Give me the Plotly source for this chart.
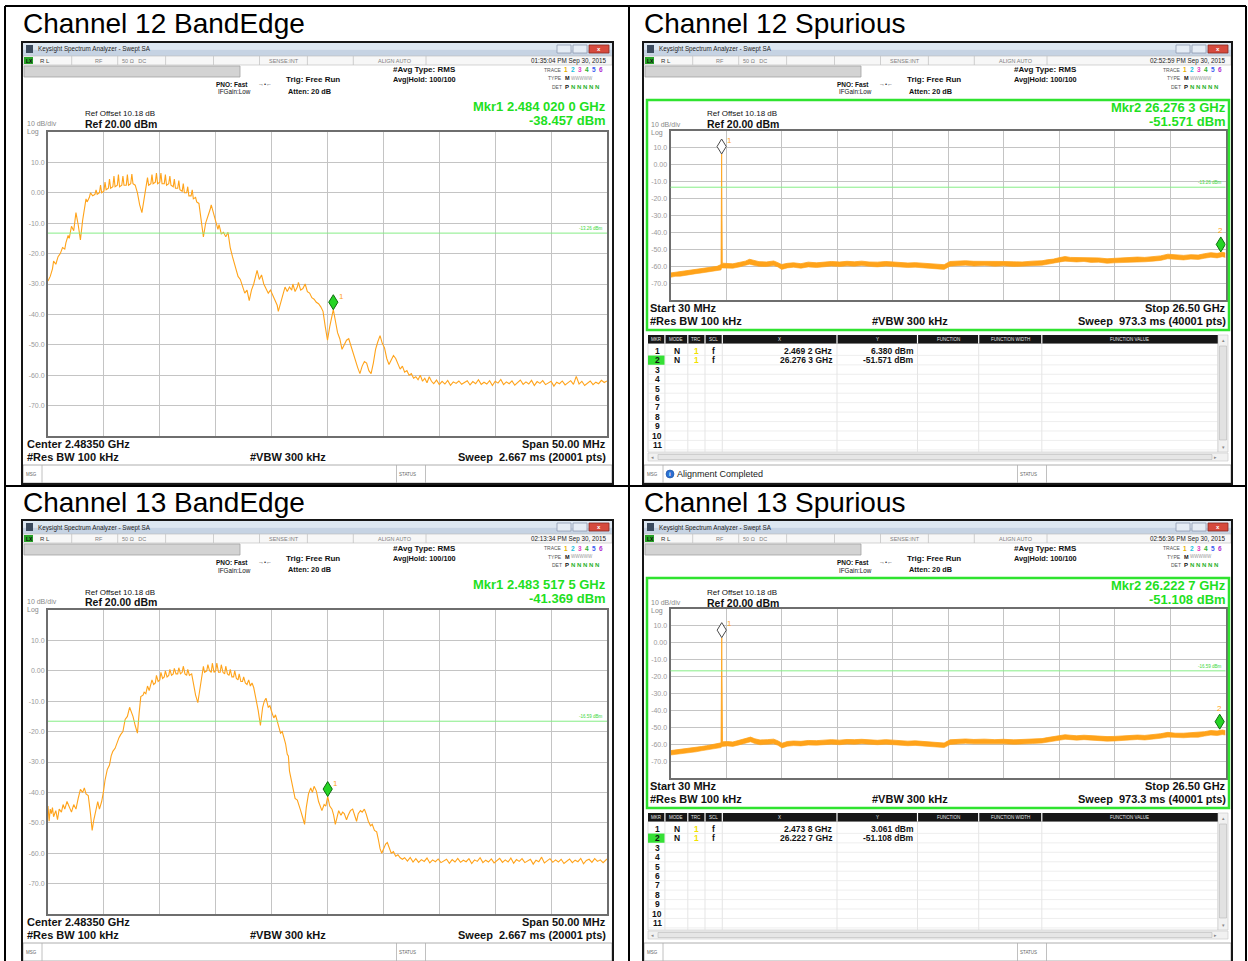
import plotly.graph_objects as go

W, H = 1248, 961

# ---------------- measured traces ----------------
# Band-edge sweeps: (frequency MHz, level dBm)
ch12_edge_trace = [
    (2458.5, -29.0), (2458.7, -27.5), (2458.9, -25.0), (2459.0, -22.5), (2459.2, -23.5),
    (2459.4, -21.0), (2459.6, -20.0), (2459.8, -18.0), (2460.0, -18.5), (2460.1, -16.5),
    (2460.3, -14.0), (2460.4, -15.0), (2460.6, -11.0), (2460.8, -12.5), (2460.9, -9.5),
    (2461.0, -6.5), (2461.2, -10.5), (2461.4, -15.5), (2461.6, -9.0), (2461.8, -3.0),
    (2461.9, -2.0), (2462.0, -3.0), (2462.2, -1.5), (2462.3, 0.0), (2462.5, -1.0),
    (2462.7, -0.5), (2462.8, 1.0), (2462.9, -0.5), (2463.1, 0.0), (2463.2, 2.5),
    (2463.3, 0.0), (2463.5, 0.5), (2463.6, 3.5), (2463.7, 1.0), (2463.9, 1.5),
    (2464.0, 4.5), (2464.1, 1.5), (2464.3, 2.0), (2464.4, 5.5), (2464.5, 2.0),
    (2464.7, 2.5), (2464.8, 6.0), (2464.9, 2.0), (2465.1, 2.5), (2465.2, 5.5),
    (2465.3, 2.5), (2465.5, 2.5), (2465.6, 6.0), (2465.7, 2.5), (2465.9, 3.0),
    (2466.0, 6.2), (2466.1, 3.0), (2466.3, 2.5), (2466.5, 0.0), (2466.7, -4.0),
    (2466.9, -6.5), (2467.1, -2.0), (2467.3, 3.0), (2467.4, 5.0), (2467.5, 2.5),
    (2467.7, 3.0), (2467.8, 6.0), (2467.9, 3.0), (2468.1, 3.5), (2468.2, 6.5),
    (2468.3, 3.0), (2468.5, 3.5), (2468.6, 6.5), (2468.7, 3.0), (2468.9, 3.0),
    (2469.0, 6.0), (2469.1, 2.5), (2469.3, 3.0), (2469.4, 5.5), (2469.5, 2.5),
    (2469.7, 2.0), (2469.8, 4.5), (2469.9, 1.5), (2470.1, 1.5), (2470.2, 4.0),
    (2470.3, 1.0), (2470.5, 0.5), (2470.6, 3.0), (2470.7, 0.0), (2470.9, 0.0),
    (2471.0, 2.0), (2471.1, -1.0), (2471.3, -1.0), (2471.4, 1.0), (2471.5, -2.0),
    (2471.7, -1.5), (2471.8, -3.0), (2472.0, -3.5), (2472.2, -9.0), (2472.4, -14.5),
    (2472.6, -10.0), (2472.8, -8.0), (2473.0, -5.5), (2473.1, -4.0), (2473.3, -7.0),
    (2473.5, -9.5), (2473.7, -12.0), (2473.8, -10.5), (2474.0, -13.5), (2474.2, -13.0),
    (2474.4, -14.5), (2474.6, -13.0), (2474.8, -18.0), (2475.0, -21.0), (2475.2, -24.0),
    (2475.5, -27.5), (2475.7, -28.5), (2475.9, -31.0), (2476.1, -33.0), (2476.3, -32.0),
    (2476.5, -35.5), (2476.7, -32.0), (2476.9, -30.0), (2477.1, -27.0), (2477.2, -25.5),
    (2477.4, -28.5), (2477.6, -27.0), (2477.8, -30.0), (2478.0, -31.5), (2478.2, -33.0),
    (2478.4, -32.0), (2478.6, -33.5), (2478.8, -35.0), (2479.0, -37.0), (2479.1, -39.0),
    (2479.3, -36.0), (2479.5, -33.0), (2479.7, -31.0), (2479.9, -32.5), (2480.1, -31.0),
    (2480.3, -32.0), (2480.4, -30.0), (2480.6, -32.5), (2480.8, -31.0), (2480.9, -29.5),
    (2481.1, -32.0), (2481.3, -31.5), (2481.5, -30.0), (2481.7, -32.5), (2481.9, -33.0),
    (2482.1, -34.5), (2482.3, -35.0), (2482.5, -36.0), (2482.7, -36.5), (2482.9, -37.5),
    (2483.1, -39.0), (2483.3, -44.0), (2483.5, -48.5), (2483.7, -44.0), (2483.9, -40.5),
    (2484.02, -38.457), (2484.2, -42.0), (2484.4, -46.0), (2484.6, -48.0), (2484.8, -51.5),
    (2485.0, -50.0), (2485.2, -48.5), (2485.4, -48.0), (2485.6, -50.5), (2485.8, -52.5),
    (2486.0, -55.0), (2486.2, -57.5), (2486.4, -59.5), (2486.6, -57.0), (2486.8, -55.5),
    (2487.0, -56.0), (2487.2, -58.5), (2487.4, -59.5), (2487.6, -56.0), (2487.8, -51.5),
    (2488.0, -49.0), (2488.2, -47.0), (2488.4, -49.5), (2488.6, -51.0), (2488.8, -54.5),
    (2489.0, -56.5), (2489.2, -55.0), (2489.4, -53.5), (2489.6, -54.5), (2489.8, -56.5),
    (2490.0, -58.0), (2490.2, -57.0), (2490.4, -59.0), (2490.6, -58.5), (2490.8, -60.0),
    (2491.0, -59.5), (2491.2, -61.0), (2491.4, -60.5), (2491.6, -61.5), (2491.8, -60.0),
    (2492.0, -62.0), (2492.2, -61.0), (2492.4, -62.5), (2492.6, -60.5), (2492.8, -62.0),
    (2493.0, -62.8), (2493.25, -61.6), (2493.5, -63.1), (2493.75, -62.0), (2494.0, -62.9),
    (2494.25, -61.7), (2494.5, -63.3), (2494.75, -62.2), (2495.0, -62.7), (2495.25, -61.9),
    (2495.5, -63.0), (2495.75, -62.4), (2496.0, -61.8), (2496.25, -63.2), (2496.5, -62.1),
    (2496.75, -62.8), (2497.0, -61.5), (2497.25, -63.0), (2497.5, -62.3), (2497.75, -62.9),
    (2498.0, -61.8), (2498.25, -63.4), (2498.5, -62.0), (2498.75, -62.6), (2499.0, -61.4),
    (2499.25, -63.1), (2499.5, -62.2), (2499.75, -62.8), (2500.0, -61.9), (2500.25, -63.3),
    (2500.5, -62.5), (2500.75, -61.6), (2501.0, -63.0), (2501.25, -62.2), (2501.5, -62.9),
    (2501.75, -61.7), (2502.0, -63.4), (2502.25, -62.1), (2502.5, -62.7), (2502.75, -61.8),
    (2503.0, -63.1), (2503.25, -62.4), (2503.5, -62.0), (2503.75, -63.6), (2504.0, -62.3),
    (2504.25, -62.8), (2504.5, -61.9), (2504.75, -63.2), (2505.0, -62.5), (2505.25, -61.8),
    (2505.5, -63.0), (2505.75, -60.4), (2506.0, -62.9), (2506.25, -62.0), (2506.5, -63.4),
    (2506.75, -62.6), (2507.0, -61.9), (2507.25, -63.1), (2507.5, -62.3), (2507.75, -62.8),
    (2508.0, -61.7), (2508.25, -62.4), (2508.5, -61.9),
]

ch13_edge_trace = [
    (2458.5, -44.5), (2458.6, -49.5), (2458.7, -45.5), (2458.8, -47.0), (2458.9, -45.0),
    (2459.0, -48.0), (2459.2, -46.0), (2459.35, -49.0), (2459.5, -45.5), (2459.7, -46.5),
    (2459.85, -44.0), (2460.0, -45.5), (2460.2, -43.0), (2460.4, -44.5), (2460.6, -46.5),
    (2460.8, -44.0), (2461.0, -45.5), (2461.2, -42.0), (2461.4, -39.0), (2461.6, -40.0),
    (2461.75, -38.5), (2461.9, -40.5), (2462.1, -41.0), (2462.3, -47.0), (2462.45, -52.5),
    (2462.6, -49.0), (2462.8, -45.0), (2462.95, -43.0), (2463.1, -45.5), (2463.3, -43.0),
    (2463.45, -40.0), (2463.6, -36.0), (2463.8, -32.5), (2464.0, -31.0), (2464.15, -28.0),
    (2464.3, -26.5), (2464.5, -25.5), (2464.7, -23.0), (2464.85, -22.0), (2465.0, -21.0),
    (2465.2, -20.0), (2465.4, -16.0), (2465.6, -15.0), (2465.8, -12.0), (2465.95, -13.5),
    (2466.1, -15.0), (2466.3, -18.0), (2466.5, -20.5), (2466.65, -14.0), (2466.8, -8.5),
    (2467.0, -8.0), (2467.1, -7.0), (2467.25, -7.5), (2467.4, -5.0), (2467.55, -6.5),
    (2467.7, -4.5), (2467.8, -3.0), (2467.95, -4.5), (2468.1, -4.0), (2468.2, -1.5),
    (2468.35, -3.5), (2468.5, -3.0), (2468.6, -0.5), (2468.75, -2.5), (2468.9, -2.0),
    (2469.0, 0.0), (2469.15, -2.0), (2469.3, -1.5), (2469.4, 0.5), (2469.55, -1.5),
    (2469.7, -1.0), (2469.8, 0.8), (2469.95, -1.0), (2470.1, -1.0), (2470.2, 1.0),
    (2470.35, -1.0), (2470.5, -0.5), (2470.6, 1.5), (2470.75, -1.0), (2470.9, -1.5),
    (2471.0, 0.5), (2471.15, -1.5), (2471.35, -1.0), (2471.5, -4.0), (2471.7, -8.0),
    (2471.9, -10.5), (2472.1, -5.0), (2472.3, 0.0), (2472.4, 1.5), (2472.5, -0.5),
    (2472.7, 0.0), (2472.8, 2.0), (2472.95, 0.0), (2473.1, -0.5), (2473.2, 2.5),
    (2473.35, -0.5), (2473.5, 0.0), (2473.6, 2.5), (2473.75, -0.5), (2473.9, -0.5),
    (2474.0, 2.0), (2474.15, -0.5), (2474.3, -1.0), (2474.4, 1.5), (2474.55, -1.0),
    (2474.7, -1.5), (2474.8, 0.5), (2474.95, -2.0), (2475.1, -2.0), (2475.2, 0.0),
    (2475.35, -2.5), (2475.5, -3.0), (2475.6, -1.0), (2475.75, -3.5), (2475.9, -3.5),
    (2476.0, -2.0), (2476.15, -4.0), (2476.3, -4.5), (2476.45, -3.0), (2476.6, -5.0),
    (2476.75, -4.0), (2476.9, -5.5), (2477.1, -9.0), (2477.3, -13.0), (2477.5, -18.0),
    (2477.7, -12.0), (2477.85, -10.0), (2478.0, -9.0), (2478.2, -12.0), (2478.35, -11.5),
    (2478.55, -14.0), (2478.7, -15.5), (2478.85, -14.5), (2479.0, -17.0), (2479.15, -18.5),
    (2479.3, -20.5), (2479.45, -20.0), (2479.6, -22.0), (2479.75, -24.0), (2479.9, -27.5),
    (2480.0, -28.0), (2480.1, -33.0), (2480.25, -36.0), (2480.4, -39.0), (2480.6, -42.0),
    (2480.8, -42.5), (2480.95, -44.0), (2481.1, -46.0), (2481.3, -48.5), (2481.45, -50.5),
    (2481.6, -45.0), (2481.8, -40.5), (2482.0, -38.5), (2482.15, -40.0), (2482.3, -38.0),
    (2482.5, -39.5), (2482.7, -43.0), (2482.85, -44.5), (2483.0, -46.0), (2483.2, -44.0),
    (2483.35, -44.5), (2483.5175, -41.369), (2483.7, -44.5), (2483.9, -45.5), (2484.05, -47.5),
    (2484.2, -50.5), (2484.35, -48.0), (2484.5, -46.0), (2484.7, -47.5), (2484.85, -46.5),
    (2485.0, -47.0), (2485.2, -49.0), (2485.35, -47.5), (2485.55, -46.0), (2485.75, -45.5),
    (2485.9, -47.5), (2486.1, -49.5), (2486.25, -47.0), (2486.45, -46.0), (2486.6, -46.5),
    (2486.8, -45.5), (2486.95, -47.0), (2487.15, -49.5), (2487.35, -51.0), (2487.5, -50.5),
    (2487.7, -52.5), (2487.9, -53.0), (2488.05, -55.5), (2488.2, -58.5), (2488.35, -60.0),
    (2488.5, -58.5), (2488.7, -57.0), (2488.85, -56.5), (2489.0, -58.0), (2489.2, -60.0),
    (2489.4, -59.5), (2489.6, -61.0), (2489.8, -60.5), (2490.0, -61.5), (2490.2, -62.0),
    (2490.4, -61.5), (2490.65, -62.6), (2490.9, -61.4), (2491.15, -62.9), (2491.4, -61.8),
    (2491.65, -63.0), (2491.9, -62.1), (2492.15, -62.7), (2492.4, -61.6), (2492.65, -63.2),
    (2492.9, -62.2), (2493.15, -62.8), (2493.4, -61.9), (2493.65, -63.1), (2493.9, -62.4),
    (2494.15, -62.0), (2494.4, -63.3), (2494.65, -62.1), (2494.9, -62.9), (2495.15, -61.7),
    (2495.4, -63.0), (2495.65, -62.3), (2495.9, -62.8), (2496.15, -61.8), (2496.4, -63.4),
    (2496.65, -62.2), (2496.9, -62.7), (2497.15, -61.5), (2497.4, -63.1), (2497.65, -62.3),
    (2497.9, -62.9), (2498.15, -61.9), (2498.4, -63.2), (2498.65, -62.5), (2498.9, -61.7),
    (2499.15, -63.0), (2499.4, -62.2), (2499.65, -62.9), (2499.9, -61.6), (2500.15, -63.3),
    (2500.4, -62.1), (2500.65, -62.7), (2500.9, -61.8), (2501.15, -63.1), (2501.4, -62.4),
    (2501.65, -62.0), (2501.9, -63.6), (2502.15, -62.3), (2502.4, -62.8), (2502.65, -61.3),
    (2502.9, -63.2), (2503.15, -62.5), (2503.4, -61.8), (2503.65, -63.0), (2503.9, -62.2),
    (2504.15, -62.9), (2504.4, -62.0), (2504.65, -63.4), (2504.9, -62.6), (2505.15, -61.9),
    (2505.4, -63.1), (2505.65, -62.3), (2505.9, -62.8), (2506.15, -61.7), (2506.4, -63.5),
    (2506.65, -62.4), (2506.9, -62.0), (2507.15, -63.0), (2507.4, -61.8), (2507.65, -62.7),
    (2507.9, -62.2), (2508.15, -63.1), (2508.5, -61.9),
]

# Spurious sweeps: (frequency MHz, lower edge dBm, upper edge dBm) of the trace band
ch12_spur_band = [
    (30, -66.6, -64.0), (250, -66.0, -63.6), (500, -65.9, -63.2), (750, -65.3, -63.0),
    (1000, -65.0, -62.4), (1250, -64.4, -62.1), (1500, -64.0, -61.4), (1750, -63.5, -61.0),
    (2000, -63.1, -60.5), (2250, -62.6, -60.1), (2440, -62.2, -59.0), (2469.2, -61.0, 6.380),
    (2500, -61.0, -58.2), (2750, -60.9, -58.3), (3000, -61.2, -58.6), (3300, -60.5, -57.8),
    (3600, -59.6, -57.0), (3800, -58.8, -55.9), (4000, -59.4, -56.6), (4250, -60.1, -57.3),
    (4600, -60.2, -57.5), (4950, -59.6, -56.9), (5150, -60.4, -57.9), (5330, -61.9, -59.0),
    (5600, -61.0, -58.3), (5900, -60.6, -58.0), (6250, -61.2, -58.5), (6600, -60.4, -57.6),
    (7000, -60.8, -58.0), (7400, -60.2, -57.4), (7700, -59.9, -57.2), (8100, -60.2, -57.5),
    (8450, -59.8, -57.1), (8800, -60.0, -57.4), (9150, -59.6, -57.0), (9500, -60.1, -57.5),
    (9900, -60.4, -57.6), (10300, -59.9, -57.2), (10600, -60.2, -57.4), (11000, -60.5, -57.9),
    (11350, -60.8, -58.1), (11700, -60.6, -57.9), (12100, -61.0, -58.3), (12500, -61.2, -58.6),
    (12800, -61.6, -58.9), (13080, -61.9, -59.1), (13360, -60.0, -57.2), (13700, -59.8, -57.0),
    (14100, -59.4, -56.8), (14500, -59.9, -57.1), (15000, -59.6, -57.0), (15500, -60.0, -57.3),
    (15900, -59.8, -57.2), (16400, -60.2, -57.4), (16800, -60.0, -57.5), (17300, -59.7, -57.0),
    (17750, -59.4, -56.8), (18000, -58.9, -56.2), (18300, -58.4, -55.8), (18550, -57.6, -55.0),
    (18850, -57.0, -54.3), (19100, -57.4, -54.8), (19400, -57.5, -54.9), (19750, -57.2, -54.6),
    (20100, -57.8, -55.0), (20450, -57.6, -55.1), (20850, -58.3, -55.6), (21200, -58.0, -55.3),
    (21550, -57.9, -55.2), (21900, -57.5, -54.9), (22300, -57.3, -54.6), (22650, -57.4, -54.8),
    (23050, -57.0, -54.4), (23400, -56.6, -53.9), (23750, -55.6, -52.9), (24100, -56.0, -53.4),
    (24500, -56.3, -53.6), (24850, -55.8, -53.2), (25200, -56.0, -53.4), (25500, -55.3, -52.6),
    (25800, -54.7, -52.0), (26100, -55.1, -52.4), (26350, -54.4, -51.8), (26500, -54.8, -52.2),
]

ch13_spur_band = [
    (30, -66.4, -63.8), (250, -66.1, -63.5), (500, -65.6, -63.1), (750, -65.4, -62.8),
    (1000, -64.8, -62.3), (1250, -64.5, -61.9), (1500, -63.9, -61.4), (1750, -63.4, -60.9),
    (2000, -63.0, -60.4), (2250, -62.7, -60.0), (2440, -62.0, -59.2), (2473.8, -61.5, 3.061),
    (2510, -61.3, -58.6), (2750, -61.0, -58.4), (3000, -61.3, -58.7), (3300, -60.4, -57.7),
    (3600, -59.3, -56.6), (3850, -58.6, -55.8), (4050, -59.6, -56.8), (4300, -60.3, -57.5),
    (4650, -60.0, -57.3), (4950, -59.8, -57.0), (5150, -60.6, -58.0), (5350, -62.2, -59.4),
    (5600, -61.2, -58.4), (5900, -60.8, -58.1), (6250, -61.0, -58.3), (6600, -60.5, -57.8),
    (7000, -60.6, -57.9), (7400, -60.3, -57.5), (7700, -60.0, -57.3), (8100, -60.3, -57.6),
    (8450, -59.9, -57.2), (8800, -60.1, -57.3), (9150, -59.7, -57.1), (9500, -60.0, -57.4),
    (9900, -60.3, -57.7), (10300, -60.0, -57.3), (10600, -60.3, -57.5), (11000, -60.6, -58.0),
    (11350, -60.9, -58.2), (11700, -60.7, -58.0), (12100, -61.1, -58.4), (12500, -61.3, -58.7),
    (12800, -61.8, -59.0), (13080, -62.0, -59.3), (13360, -60.2, -57.4), (13700, -59.9, -57.1),
    (14100, -59.5, -56.9), (14500, -59.8, -57.2), (15000, -59.7, -57.0), (15500, -59.9, -57.3),
    (15900, -59.8, -57.1), (16400, -60.1, -57.4), (16800, -60.0, -57.3), (17300, -59.6, -57.0),
    (17750, -59.3, -56.7), (18000, -58.8, -56.1), (18300, -58.2, -55.6), (18550, -57.5, -54.9),
    (18850, -57.1, -54.4), (19100, -57.3, -54.7), (19400, -57.6, -55.0), (19750, -57.3, -54.7),
    (20100, -57.7, -55.0), (20450, -57.8, -55.2), (20850, -58.2, -55.5), (21200, -58.1, -55.4),
    (21550, -57.8, -55.1), (21900, -57.6, -54.9), (22300, -57.2, -54.6), (22650, -57.5, -54.8),
    (23050, -57.1, -54.5), (23400, -56.5, -53.8), (23750, -55.8, -53.0), (24100, -56.1, -53.5),
    (24500, -56.2, -53.5), (24850, -55.9, -53.3), (25200, -55.9, -53.2), (25500, -55.2, -52.6),
    (25800, -54.6, -51.9), (26100, -54.9, -52.2), (26350, -54.3, -51.6), (26500, -54.6, -52.0),
]

# ---------------- instrument settings / readouts ----------------
edge_center_mhz = 2483.5
edge_span_mhz = 50.0
spur_start_mhz = 30.0
spur_stop_mhz = 26500.0
ref_level_dbm = 20.0
db_per_div = 10.0

ch12_display_line = -13.26
ch13_display_line = -16.59

ch12_edge_marker = (2484.0200, -38.457)
ch13_edge_marker = (2483.5175, -41.369)
ch12_spur_markers = [(2469.2, 6.380), (26276.3, -51.571)]
ch13_spur_markers = [(2473.8, 3.061), (26222.7, -51.108)]

panel_titles = ["Channel 12 BandEdge", "Channel 12 Spurious",
                "Channel 13 BandEdge", "Channel 13 Spurious"]
timestamps = ["01:35:04 PM Sep 30, 2015", "02:52:59 PM Sep 30, 2015",
              "02:13:34 PM Sep 30, 2015", "02:56:36 PM Sep 30, 2015"]
status_messages = ["", "Alignment Completed", "", ""]

# ---------------- styling ----------------
FONT = "Liberation Sans, Arial, sans-serif"
ORANGE = "#ffa31a"
MKR_GREEN = "#1fe01f"
DL_GREEN = "#86ee86"
GRID = "#c4c4c4"
AXFRAME = "#6e6e6e"
TICK_GRAY = "#9a9a9a"

shapes, annots = [], []


def X(px):
    return px / W


def Y(py):
    return 1 - py / H


def rect(x0, y0, x1, y1, fill=None, line=None, lw=1.0):
    shapes.append(dict(type="rect", xref="paper", yref="paper",
                       x0=X(x0), x1=X(x1), y0=Y(y1), y1=Y(y0),
                       fillcolor=fill or "rgba(0,0,0,0)",
                       line=dict(color=line or "rgba(0,0,0,0)", width=lw if line else 0)))


def hline(x0, x1, y, color, w=1.0):
    shapes.append(dict(type="line", xref="paper", yref="paper",
                       x0=X(x0), x1=X(x1), y0=Y(y), y1=Y(y), line=dict(color=color, width=w)))


def vline(x, y0, y1, color, w=1.0):
    shapes.append(dict(type="line", xref="paper", yref="paper",
                       x0=X(x), x1=X(x), y0=Y(y0), y1=Y(y1), line=dict(color=color, width=w)))


def txt(x, y, s, size=7, color="#111111", anchor="left", bold=False):
    annots.append(dict(xref="paper", yref="paper", x=X(x), y=Y(y),
                       text="<b>%s</b>" % s if bold else s, showarrow=False,
                       xanchor=anchor, yanchor="middle", borderpad=0,
                       font=dict(size=size, color=color, family=FONT)))


def fmt_ghz(mhz, nd):
    s = f"{mhz / 1000:.{nd}f}"
    ip, dp = s.split(".")
    return ip + "." + " ".join(dp[i:i + 3] for i in range(0, len(dp), 3)) + " GHz"


def fmt_dbm(v):
    return f"{v:.3f} dBm"


fig = go.Figure()


def setup_axes(idx, x0, x1, y0, y1, f0, f1):
    sfx = "" if idx == 1 else str(idx)
    divs = [f0 + k * (f1 - f0) / 10 for k in range(1, 10)]
    bottom = ref_level_dbm - 10 * db_per_div
    yvals = [ref_level_dbm - k * db_per_div for k in range(1, 10)]
    ytext = ["0.00" if v == 0 else f"{v:.1f}" for v in yvals]
    fig.update_layout(**{
        "xaxis" + sfx: dict(domain=[X(x0), X(x1)], range=[f0, f1], anchor="y" + sfx,
                            tickvals=divs, showticklabels=False, ticks="",
                            showgrid=True, gridcolor=GRID, gridwidth=1.2,
                            showline=True, linecolor=AXFRAME, linewidth=2, mirror=True,
                            zeroline=False, fixedrange=True),
        "yaxis" + sfx: dict(domain=[Y(y1), Y(y0)], range=[bottom, ref_level_dbm], anchor="x" + sfx,
                            tickvals=yvals, ticktext=ytext, ticks="",
                            tickfont=dict(size=7, color=TICK_GRAY, family=FONT),
                            showgrid=True, gridcolor=GRID, gridwidth=1.2,
                            showline=True, linecolor=AXFRAME, linewidth=2, mirror=True,
                            zeroline=False, fixedrange=True),
    })
    return sfx


def diamond(sfx, f, lvl, fill, edge):
    shapes.append(dict(type="path", xref="x" + sfx, yref="y" + sfx,
                       xsizemode="pixel", ysizemode="pixel", xanchor=f, yanchor=lvl,
                       path="M0,0 L4.6,7.5 L0,15 L-4.6,7.5 Z",
                       fillcolor=fill, line=dict(color=edge, width=1)))


def mkr_label(sfx, f, lvl, s, dx, dy):
    annots.append(dict(xref="x" + sfx, yref="y" + sfx, x=f, y=lvl, text=s, showarrow=False,
                       xshift=dx, yshift=dy, font=dict(size=8, color=ORANGE, family=FONT)))


def display_line(sfx, dl):
    shapes.append(dict(type="line", xref="x" + sfx + " domain", yref="y" + sfx,
                       x0=0, x1=1, y0=dl, y1=dl, line=dict(color=DL_GREEN, width=1)))
    annots.append(dict(xref="x" + sfx + " domain", yref="y" + sfx, x=0.997, y=dl,
                       text=f"{dl:.2f} dBm", showarrow=False, xanchor="right", yanchor="bottom",
                       yshift=0, font=dict(size=4.5, color="#3ad63a", family=FONT)))


def window(px, pw, oy, stamp):
    R = px + pw
    # title bar
    rect(px + 1, oy + 43, R - 1, oy + 49.5, fill="#dde7f1")
    rect(px + 1, oy + 49.5, R - 1, oy + 56, fill="#c6d3e3")
    rect(px + 4, oy + 45, px + 11, oy + 53, fill="#3b4a5d")
    txt(px + 15, oy + 49.5, "Keysight Spectrum Analyzer - Swept SA", 6.3, "#1d1d1d")
    rect(R - 56, oy + 45, R - 42, oy + 53, fill="#e6edf5", line="#8d9bb0", lw=0.8)
    rect(R - 40, oy + 45, R - 26, oy + 53, fill="#e6edf5", line="#8d9bb0", lw=0.8)
    rect(R - 24, oy + 45, R - 4, oy + 53, fill="#d64a3d", line="#8c2a22", lw=0.8)
    txt(R - 14, oy + 49, "x", 6, "#ffffff", anchor="center", bold=True)
    # status row
    rect(px + 1, oy + 56, R - 1, oy + 65, fill="#f7f7f7", line="#b8b8b8", lw=0.6)
    for dx in (49.7, 95.7, 143.6, 191.5, 237.5, 285.4, 331.3, 404):
        vline(px + dx, oy + 56, oy + 65, "#c4c4c4", 0.8)
    rect(px + 2, oy + 57, px + 11, oy + 64, fill="#27a327")
    txt(px + 2.5, oy + 60.5, "LX", 5, "#0a0a0a", bold=True)
    txt(px + 17, oy + 60.5, "R L", 6, "#333333")
    txt(px + 72, oy + 60.5, "RF", 5.5, "#808080")
    txt(px + 99, oy + 60.5, "50 Ω&nbsp;&nbsp;&nbsp;DC", 5.5, "#808080")
    txt(px + 262, oy + 60.5, "SENSE:INT", 5.5, "#808080", anchor="center")
    txt(px + 373, oy + 60.5, "ALIGN AUTO", 5.5, "#808080", anchor="center")
    txt(R - 6, oy + 60.5, stamp, 6.3, "#222222", anchor="right")
    # setup area
    rect(px + 2, oy + 66, px + 218, oy + 77, fill="#d3d3d3", line="#a2a2a2", lw=0.8)
    txt(px + 227, oy + 84, "PNO: Fast", 6.5, "#111111", anchor="right", bold=True)
    txt(px + 230, oy + 92, "IFGain:Low", 6.3, "#111111", anchor="right")
    txt(px + 243, oy + 84, "→•←", 6, "#333333", anchor="center")
    txt(px + 263, oy + 80, "Trig: Free Run", 8, "#111111", bold=True)
    txt(px + 265, oy + 91, "Atten: 20 dB", 7.3, "#111111", bold=True)
    txt(px + 370, oy + 70, "#Avg Type: RMS", 8, "#111111", bold=True)
    txt(px + 370, oy + 80, "Avg|Hold: 100/100", 7.3, "#111111", bold=True)
    txt(R - 50, oy + 70, "TRACE", 5, "#555555", anchor="right")
    for k, c in enumerate(["#e8b000", "#18c0e0", "#e040c8", "#30b030", "#3a5cf0", "#b030d0"]):
        txt(R - 47 + 7 * k, oy + 70, str(k + 1), 6.5, c, anchor="center", bold=True)
    txt(R - 50, oy + 78.5, "TYPE", 5, "#555555", anchor="right")
    txt(R - 49, oy + 78.5, "M", 5.5, "#111111", bold=True)
    txt(R - 43, oy + 78.5, "WWWWW", 4.5, "#999999")
    txt(R - 50, oy + 87, "DET", 5, "#555555", anchor="right")
    txt(R - 49, oy + 87, "P", 6, "#111111", bold=True)
    txt(R - 43, oy + 87, "N N N N N", 6, "#2bb02b", bold=True)
    # message bar
    rect(px + 1, oy + 465, R - 1, oy + 483, fill="#ffffff", line="#9a9a9a", lw=0.8)
    vline(px + 20, oy + 465, oy + 483, "#b0b0b0", 0.8)
    vline(px + 374.5, oy + 465, oy + 483, "#b0b0b0", 0.8)
    vline(px + 403.5, oy + 465, oy + 483, "#b0b0b0", 0.8)
    txt(px + 2.5, oy + 474, "MSG", 4.5, "#666666")
    txt(px + 376, oy + 474, "STATUS", 4.5, "#666666")
    # outer frame
    rect(px, oy + 42, R, oy + 484, line="#161616", lw=2)


def scale_labels(x, oy, y_div, y_log):
    txt(x, oy + y_div, "10 dB/div", 7, "#8a8a8a")
    txt(x, oy + y_log, "Log", 7, "#8a8a8a")


def edge_panel(idx, oy, title, stamp, trace, mkr, dl):
    px, pw = 22, 591
    txt(px, oy + 24, title, 28, "#000000")
    window(px, pw, oy, stamp)
    f0 = edge_center_mhz - edge_span_mhz / 2
    f1 = edge_center_mhz + edge_span_mhz / 2
    sfx = setup_axes(idx, 48, 607, oy + 132, oy + 436, f0, f1)
    txt(px + 62, oy + 114, "Ref Offset 10.18 dB", 8, "#111111")
    txt(px + 62, oy + 123.5, "Ref 20.00 dBm", 10.5, "#111111", bold=True)
    scale_labels(px + 4, oy, 123.5, 132)
    txt(607, oy + 106.5, "Mkr1 " + fmt_ghz(mkr[0], 7), 13, MKR_GREEN, anchor="right", bold=True)
    txt(607, oy + 120.5, fmt_dbm(mkr[1]), 13, MKR_GREEN, anchor="right", bold=True)
    txt(px + 4, oy + 444, f"Center {edge_center_mhz / 1000:.5f} GHz", 11, "#111111", bold=True)
    txt(px + 4, oy + 457, "#Res BW 100 kHz", 11, "#111111", bold=True)
    txt(px + 227, oy + 457, "#VBW 300 kHz", 11, "#111111", bold=True)
    txt(607, oy + 444, f"Span {edge_span_mhz:.2f} MHz", 11, "#111111", anchor="right", bold=True)
    txt(607, oy + 457, "Sweep&nbsp;&nbsp;2.667 ms (20001 pts)", 11, "#111111", anchor="right", bold=True)
    fig.add_trace(go.Scatter(x=[p[0] for p in trace], y=[p[1] for p in trace], mode="lines",
                             line=dict(color=ORANGE, width=1.1), xaxis="x" + sfx, yaxis="y" + sfx,
                             hoverinfo="skip", showlegend=False))
    display_line(sfx, dl)
    diamond(sfx, mkr[0], mkr[1], "#25d425", "#0d6e0d")
    mkr_label(sfx, mkr[0], mkr[1], "1", 8, 13)


def spur_panel(idx, oy, title, stamp, band, mkrs, dl, msg):
    px, pw = 643, 589
    txt(px, oy + 24, title, 28, "#000000")
    window(px, pw, oy, stamp)
    rect(647, oy + 100, 1229, oy + 330, line="#2fe32f", lw=2.5)
    sfx = setup_axes(idx, 670.5, 1225.5, oy + 131, oy + 300, spur_start_mhz, spur_stop_mhz)
    txt(px + 63, oy + 114, "Ref Offset 10.18 dB", 8, "#111111")
    txt(px + 63, oy + 124.5, "Ref 20.00 dBm", 10.5, "#111111", bold=True)
    scale_labels(px + 7, oy, 124.5, 133)
    m2 = mkrs[1]
    txt(1226.5, oy + 107.5, "Mkr2 " + fmt_ghz(m2[0], 4), 13, MKR_GREEN, anchor="right", bold=True)
    txt(1226.5, oy + 121.5, fmt_dbm(m2[1]), 13, MKR_GREEN, anchor="right", bold=True)
    txt(px + 6, oy + 308, f"Start {spur_start_mhz:.0f} MHz", 11, "#111111", bold=True)
    txt(1227, oy + 308, f"Stop {spur_stop_mhz / 1000:.2f} GHz", 11, "#111111", anchor="right", bold=True)
    txt(px + 6, oy + 321, "#Res BW 100 kHz", 11, "#111111", bold=True)
    txt(px + 228, oy + 321, "#VBW 300 kHz", 11, "#111111", bold=True)
    txt(1227, oy + 321, "Sweep&nbsp;&nbsp;973.3 ms (40001 pts)", 11, "#111111", anchor="right", bold=True)

    fx = [p[0] for p in band]
    fig.add_trace(go.Scatter(x=fx, y=[p[1] for p in band], mode="lines",
                             line=dict(color=ORANGE, width=0.6), xaxis="x" + sfx, yaxis="y" + sfx,
                             hoverinfo="skip", showlegend=False))
    fig.add_trace(go.Scatter(x=fx, y=[p[2] for p in band], mode="lines", fill="tonexty",
                             fillcolor=ORANGE, line=dict(color=ORANGE, width=0.8),
                             xaxis="x" + sfx, yaxis="y" + sfx, hoverinfo="skip", showlegend=False))
    display_line(sfx, dl)
    m1 = mkrs[0]
    diamond(sfx, m1[0], m1[1], "#ffffff", "#4a4a4a")
    mkr_label(sfx, m1[0], m1[1], "1", 8, 14)
    diamond(sfx, m2[0], m2[1], "#25d425", "#0d6e0d")
    mkr_label(sfx, m2[0], m2[1], "2", 0, 21)

    # marker table
    cols = [648, 664.9, 687.8, 705, 722.3, 837, 917.5, 978.7, 1041.8, 1218]
    heads = ["MKR", "MODE", "TRC", "SCL", "X", "Y", "FUNCTION", "FUNCTION WIDTH", "FUNCTION VALUE"]
    rect(648, oy + 343.5, 1218, oy + 452, fill="#ffffff", line="#c8c8c8", lw=0.6)
    rect(648, oy + 335, 1218, oy + 343.5, fill="#161616")
    for k, h in enumerate(heads):
        txt((cols[k] + cols[k + 1]) / 2, oy + 339.3, h, 4.5, "#e8e8e8", anchor="center")
    for c in cols[1:-1]:
        vline(c, oy + 335, oy + 343.5, "#ffffff", 1.2)
        vline(c, oy + 343.5, oy + 452, "#dedede", 0.8)
    row_y = [oy + 350.7 + 9.45 * i for i in range(11)]
    for yc in row_y:
        hline(648, 1218, yc + 4.7, "#e6e6e6", 0.7)
    rect(648, row_y[1] - 4.6, 664.5, row_y[1] + 4.6, fill="#35e035")
    for i, yc in enumerate(row_y):
        txt(657, yc, str(i + 1), 8.5, "#111111", anchor="center", bold=True)
    for i, (f, v) in enumerate(mkrs):
        yc = row_y[i]
        txt(676.5, yc, "N", 8.5, "#111111", anchor="center", bold=True)
        txt(696.5, yc, "1", 8.5, "#f2e200", anchor="center", bold=True)
        txt(713.5, yc, "f", 8.5, "#111111", anchor="center", bold=True)
        txt(833, yc, fmt_ghz(f, 4), 8.5, "#111111", anchor="right", bold=True)
        txt(915, yc, fmt_dbm(v), 8.5, "#111111", anchor="right", bold=True)
    rect(1218, oy + 335, 1228, oy + 452, fill="#f1f1f1", line="#c8c8c8", lw=0.6)
    rect(1219.5, oy + 346, 1226.5, oy + 440, fill="#e2e2e2", line="#b8b8b8", lw=0.6)
    txt(1223, oy + 339.5, "▴", 5, "#888888", anchor="center")
    txt(1223, oy + 447, "▾", 5, "#888888", anchor="center")
    rect(648, oy + 453, 1228, oy + 461, fill="#f1f1f1", line="#c8c8c8", lw=0.6)
    rect(658, oy + 454.5, 1212, oy + 459.5, fill="#e6e6e6", line="#bababa", lw=0.6)
    txt(652, oy + 457, "◂", 5, "#888888", anchor="center")
    txt(1215, oy + 457, "▸", 5, "#888888", anchor="center")
    if msg:
        shapes.append(dict(type="circle", xref="paper", yref="paper",
                           x0=X(666), x1=X(674), y0=Y(oy + 478), y1=Y(oy + 470),
                           fillcolor="#2b6fd3", line=dict(color="#1b4f9e", width=0.6)))
        txt(670, oy + 474, "i", 6, "#ffffff", anchor="center", bold=True)
        txt(676, oy + 474.5, msg, 9, "#222222")


edge_panel(1, 0, panel_titles[0], timestamps[0], ch12_edge_trace, ch12_edge_marker, ch12_display_line)
spur_panel(2, 0, panel_titles[1], timestamps[1], ch12_spur_band, ch12_spur_markers,
           ch12_display_line, status_messages[1])
edge_panel(3, 478, panel_titles[2], timestamps[2], ch13_edge_trace, ch13_edge_marker, ch13_display_line)
spur_panel(4, 478, panel_titles[3], timestamps[3], ch13_spur_band, ch13_spur_markers,
           ch13_display_line, status_messages[3])

# table grid around the four captures
hline(5, 1246, 6, "#000000", 2)
hline(5, 1246, 486, "#000000", 2)
vline(5, 6, 961, "#000000", 2)
vline(629, 6, 961, "#000000", 2)
vline(1246, 6, 961, "#000000", 2)

fig.update_layout(width=W, height=H, margin=dict(l=0, r=0, t=0, b=0),
                  paper_bgcolor="#ffffff", plot_bgcolor="#ffffff", showlegend=False,
                  shapes=shapes, annotations=annots, font=dict(family=FONT))

fig.write_html("out.html")
